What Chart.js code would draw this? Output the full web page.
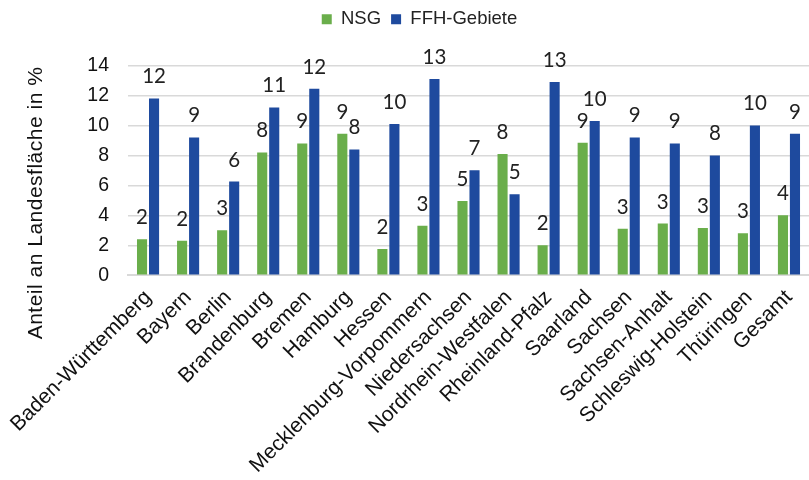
<!DOCTYPE html>
<html>
<head>
<meta charset="utf-8">
<script src="https://cdn.jsdelivr.net/npm/chart.js@4"></script>
<style>
  body { margin: 0; background: #fff; }
  #wrap { width: 809px; height: 480px; }
</style>
</head>
<body>
<div id="wrap"><canvas id="myChart"></canvas></div>
<script>
// Laender + Gesamt
var laender = ["Baden-Württemberg", "Bayern", "Berlin", "Brandenburg", "Bremen", "Hamburg", "Hessen",
  "Mecklenburg-Vorpommern", "Niedersachsen", "Nordrhein-Westfalen", "Rheinland-Pfalz", "Saarland",
  "Sachsen", "Sachsen-Anhalt", "Schleswig-Holstein", "Thüringen", "Gesamt"];
// Anteil an Landesflaeche in %
var nsg = [2.4, 2.3, 3.0, 8.2, 8.8, 9.45, 1.75, 3.3, 4.95, 8.1, 2.0, 8.85, 3.1, 3.45, 3.15, 2.8, 4.0];
var ffh = [11.8, 9.2, 6.25, 11.2, 12.45, 8.4, 10.1, 13.1, 7.0, 5.4, 12.9, 10.3, 9.2, 8.8, 8.0, 10.0, 9.45];
var yTicks = [0, 2, 4, 6, 8, 10, 12, 14];
var yTitel = "Anteil an Landesfläche in %";

var fontMain = "'Liberation Sans', Arial, sans-serif";

// zahlen ueber den balken + y-titel
var wertLabels = {
  id: "wertLabels",
  afterDatasetsDraw: function(chart) {
    var ctx = chart.ctx;
    ctx.save();
    ctx.font = "20.5px Lato, 'Open Sans', sans-serif";
    ctx.fillStyle = "#222";
    ctx.textAlign = "center";
    ctx.textBaseline = "alphabetic";
    chart.data.datasets.forEach(function(ds, i) {
      chart.getDatasetMeta(i).data.forEach(function(bar, j) {
        ctx.fillText(Math.round(ds.data[j]), bar.x, bar.y - 15);
      });
    });
    ctx.restore();

    // titel der y-achse, etwas tiefer als die mitte
    ctx.save();
    ctx.translate(36, 203);
    ctx.rotate(-Math.PI / 2);
    ctx.font = "21px " + fontMain;
    ctx.letterSpacing = "0.5px";
    ctx.fillStyle = "#111";
    ctx.textAlign = "center";
    ctx.textBaseline = "middle";
    ctx.fillText(yTitel, 0, 0);
    ctx.restore();
  }
};

// mehr platz unter der legende
var legendAbstand = {
  id: "legendAbstand",
  beforeInit: function(chart) {
    var fit = chart.legend.fit;
    chart.legend.fit = function() {
      fit.bind(chart.legend)();
      this.height += 27;
    };
  }
};

new Chart(document.getElementById("myChart"), {
  type: "bar",
  data: {
    labels: laender,
    datasets: [
      { label: "NSG", data: nsg, backgroundColor: "#6aae4b", barPercentage: 0.84, categoryPercentage: 0.6 },
      { label: "FFH-Gebiete", data: ffh, backgroundColor: "#1e4a9e", barPercentage: 0.84, categoryPercentage: 0.6 }
    ]
  },
  options: {
    responsive: true,
    maintainAspectRatio: false,
    animation: false,
    layout: { padding: { left: 30, right: 0, top: 0, bottom: 0 } },
    plugins: {
      legend: {
        display: true,
        position: "top",
        labels: {
          boxWidth: 10, boxHeight: 10, padding: 10, color: "#222",
          font: { family: fontMain, size: 18.5 }
        }
      },
      tooltip: { enabled: false }
    },
    scales: {
      x: {
        grid: { display: false },
        border: { color: "#d9d9d9", width: 2 },
        afterFit: function(axis) { axis.paddingLeft += 10; },
        ticks: {
          color: "#111", maxRotation: 45, minRotation: 45, autoSkip: false, padding: 2,
          font: { family: fontMain, size: 21 }
        }
      },
      y: {
        min: 0, max: 14,
        afterBuildTicks: function(axis) {
          axis.ticks = yTicks.map(function(v) { return { value: v }; });
        },
        grid: { color: "#d9d9d9", lineWidth: 1.5, drawTicks: false },
        border: { display: false },
        ticks: { color: "#111", padding: 19, font: { family: fontMain, size: 19.5 } },
        title: { display: false }
      }
    }
  },
  plugins: [wertLabels, legendAbstand]
});
</script>
</body>
</html>
